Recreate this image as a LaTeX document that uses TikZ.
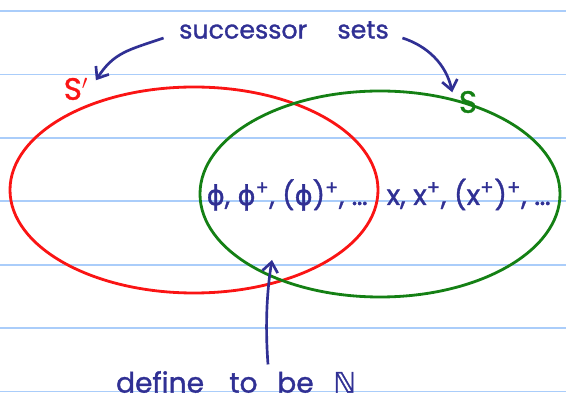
\documentclass[tikz,border=0pt]{standalone}
\usepackage{fontspec}
\setmainfont{Poppins}[FakeBold=1.2]
\newfontfamily\greekfont{DejaVu Sans}[FakeBold=1.2]
\usetikzlibrary{arrows.meta, shapes.geometric, calc}
\definecolor{ruleblue}{RGB}{170,205,250}
\definecolor{inkblue}{RGB}{48,48,148}
\definecolor{setred}{RGB}{250,20,20}
\definecolor{setgreen}{RGB}{20,128,20}
\tikzset{
  rule/.style    = {draw=ruleblue, line width=1.3pt},
  setring/.style = {ellipse, line width=2pt, inner sep=0pt},
  ink/.style     = {text=inkblue, inner sep=1pt, font=\fontsize{18}{20}\selectfont},
  arr/.style     = {-{Straight Barb[length=7pt, width=11pt]}, line width=1.9pt, color=inkblue},
}
\newcommand{\ph}{{\greekfont ϕ}}
\newcommand{\pl}{\textsuperscript{+}}

\begin{document}
\begin{tikzpicture}[x=0.25mm, y=0.25mm]
  \useasboundingbox (0,0) rectangle (566,405);
  % ruled paper
  \foreach \ly in {13.5,77,140,204,267,330.5,394}
    \draw[rule] (0,\ly) -- (566,\ly);

  % the two sets
  \node[setring, draw=setred, minimum width=92mm, minimum height=51.5mm] (sprimeset) at (194,215) {};
  \node[setring, draw=setgreen, minimum width=90mm, minimum height=51.5mm] (sset) at (380,211) {};

  \node[ink] (succ) at (284,375) {successor\hspace{1.2em}sets};
  \node[ink, text=setred, font=\fontsize{22}{24}\selectfont] (sprime) at (76,316) {S$'$};
  \node[ink, text=setgreen, font=\fontsize{22}{24}\selectfont] (s) at (468,303) {S};

  \node[ink, anchor=base west, font=\fontsize{19.5}{22}\selectfont] (phiseq) at (205,200) {\ph, \ph\pl, (\ph)\pl, \dots};
  \node[ink, anchor=base west, font=\fontsize{20}{22}\selectfont] (xseq) at (385,200) {x, x\pl, (x\pl)\pl, \dots};

  \node[ink, font=\fontsize{20}{22}\selectfont] (defn) at (236,23) {define\hspace{0.9em}to\hspace{0.7em}be\hspace{0.7em}{\greekfont ℕ}};
  \coordinate (lens) at (272,145);

  \draw[arr] ($(succ.west)+(-14,-8)$) .. controls +(-35,-12) and +(18,28) .. ($(sprime.north east)+(6,-4)$);
  \draw[arr] ($(succ.east)+(12,-8)$) .. controls +(25,-8) and +(-6,28) .. ($(s.north west)+(-5,-3)$);
  \draw[arr] ($(defn.north)+(32,5)$) .. controls +(-3,40) and +(-5,-30) .. (lens);
\end{tikzpicture}
\end{document}
